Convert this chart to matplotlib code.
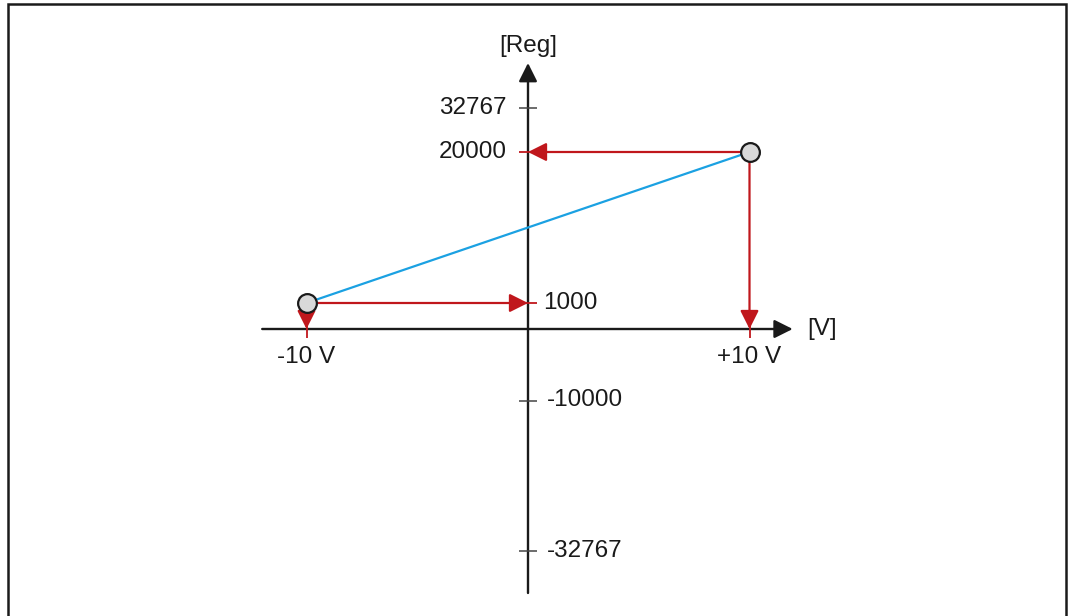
import matplotlib.pyplot as plt
import numpy as np
from matplotlib.patches import Rectangle

# data
VOLT = [-10, 10]
REG = [1000, 20000]
REG_TICKS = [32767, 20000, 1000, -10000, -32767]
REG_TICKS_RED = [20000, 1000]
VOLT_TICKS = [-10, 10]
VOLT_LABELS = ["-10 V", "+10 V"]
X_NAME = "[V]"
Y_NAME = "[Reg]"

# schematic (non-linear) register axis: value -> height in px from the bottom
REG_ANCHORS = [-32767, -10000, 0, 1000, 20000, 32767]
ANCHOR_PX = [65, 215.5, 287, 313, 464, 508]

RED = "#c0171c"
BLUE = "#1ba1e2"
BLACK = "#1a1a1a"
FONT = "Liberation Sans"
FS = 17.5


def _pw(v, xs, ys):
    v = np.asarray(v, dtype=float)
    flat = np.atleast_1d(v).astype(float)
    out = np.interp(flat, xs, ys)
    lo = flat < xs[0]
    hi = flat > xs[-1]
    out[lo] = ys[0] + (flat[lo] - xs[0]) * (ys[1] - ys[0]) / (xs[1] - xs[0])
    out[hi] = ys[-1] + (flat[hi] - xs[-1]) * (ys[-1] - ys[-2]) / (xs[-1] - xs[-2])
    return out.reshape(v.shape)


def fwd(v):
    return _pw(v, REG_ANCHORS, ANCHOR_PX)


def inv(p):
    return _pw(p, ANCHOR_PX, REG_ANCHORS)


fig = plt.figure(figsize=(10.7, 6.16), dpi=100)
ax = fig.add_axes([0, 0, 1, 1])
ax.set_yscale("function", functions=(fwd, inv))
px_per_v = 22.15
ax.set_xlim(-528 / px_per_v, (1070 - 528) / px_per_v)
ax.set_ylim(float(inv(0)), float(inv(616)))
ax.axis("off")

# frame
ax.add_patch(Rectangle((8 / 1070, -0.05), (1066 - 8) / 1070, 1.05 - 4 / 616,
                       transform=ax.transAxes, fill=False, ec=BLACK, lw=1.8))

head = dict(mutation_scale=28, shrinkA=0, shrinkB=0)

# axes with arrow heads
ax.annotate("", xy=(11.95, 0), xytext=(-12.0, 0),
            arrowprops=dict(arrowstyle="-|>", color=BLACK, lw=1.7, **head), zorder=2)
ax.annotate("", xy=(0, float(inv(553))), xytext=(0, float(inv(23))),
            arrowprops=dict(arrowstyle="-|>", color=BLACK, lw=1.7, **head), zorder=2)

# tick marks
gray_ticks = [t for t in REG_TICKS if t not in REG_TICKS_RED]
ax.plot([0] * len(gray_ticks), gray_ticks, ls="none", marker="_", ms=12.5,
        mew=1.1, color="#444444", zorder=2)
ax.plot([0] * len(REG_TICKS_RED), REG_TICKS_RED, ls="none", marker="_", ms=12.5,
        mew=1.3, color=RED, zorder=2)
ax.plot(VOLT_TICKS, [0] * len(VOLT_TICKS), ls="none", marker="|", ms=12.5,
        mew=1.3, color=RED, zorder=2)

# blue characteristic line
ax.plot(VOLT, REG, color=BLUE, lw=1.6, zorder=3)

# red projection arrows
for v, r in zip(VOLT, REG):
    ax.annotate("", xy=(0, r), xytext=(v, r),
                arrowprops=dict(arrowstyle="-|>", color=RED, lw=1.6, **head), zorder=3)
    ax.annotate("", xy=(v, 0), xytext=(v, r),
                arrowprops=dict(arrowstyle="-|>", color=RED, lw=1.6, **head), zorder=3)

# points
ax.plot(VOLT, REG, ls="none", marker="o", ms=13.5, mfc="#d9d9d9", mec=BLACK,
        mew=1.6, zorder=5)

# labels
txt = dict(fontsize=FS, family=FONT, color=BLACK, va="center")
for t in REG_TICKS:
    if t > 1000:
        ax.text(-0.95, t, str(t), ha="right", **txt)
    elif t == 1000:
        ax.text(0.7, t, str(t), ha="left", **txt)
    else:
        ax.text(0.85, t, str(t), ha="left", **txt)
for v, lab in zip(VOLT_TICKS, VOLT_LABELS):
    ax.text(v, float(inv(616 - 357)), lab, ha="center", **txt)
ax.text(0, float(inv(616 - 46)), Y_NAME, ha="center", **txt)
ax.text(12.6, 0, X_NAME, ha="left", **txt)

fig.savefig("out.png", dpi=100)
